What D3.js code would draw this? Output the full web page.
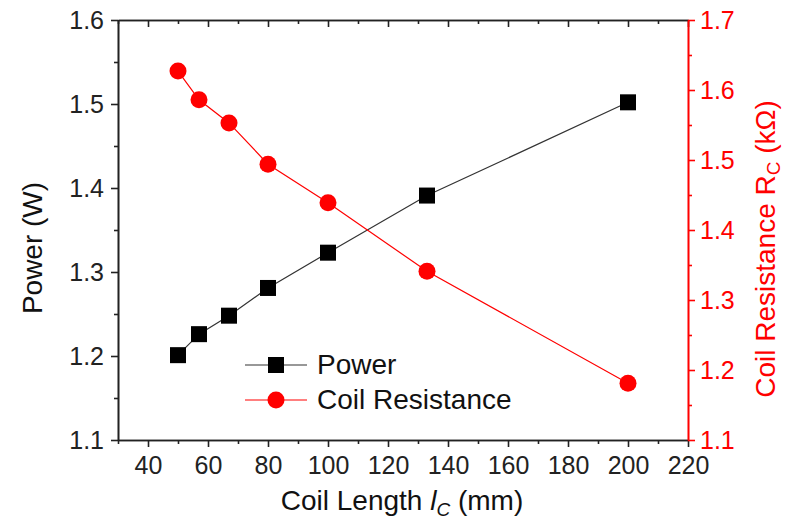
<!DOCTYPE html>
<html>
<head>
<meta charset="utf-8">
<script src="https://cdn.jsdelivr.net/npm/d3@7"></script>
<style>
  body { margin: 0; background: #fff; }
  svg text { font-family: "Liberation Sans", Arial, sans-serif; }
</style>
</head>
<body>
<div id="vis"></div>
<script>
// data
const coilLength = [50, 57, 67, 80, 100, 133, 200];
const power = [1.201, 1.226, 1.248, 1.281, 1.323, 1.391, 1.502];
const resistance = [1.627, 1.586, 1.553, 1.494, 1.439, 1.341, 1.181];

const xTicks = [40, 60, 80, 100, 120, 140, 160, 180, 200, 220];
const xMinor = [30, 50, 70, 90, 110, 130, 150, 170, 190, 210];
const powerTicks = [1.1, 1.2, 1.3, 1.4, 1.5, 1.6];
const powerMinor = [1.15, 1.25, 1.35, 1.45, 1.55];
const resTicks = [1.1, 1.2, 1.3, 1.4, 1.5, 1.6, 1.7];
const resMinor = [1.15, 1.25, 1.35, 1.45, 1.55, 1.65];

const FRAME_WIDTH = 788;
const FRAME_HEIGHT = 523;
const MARGINS = {left: 118, right: 100, top: 20, bottom: 83};
const VIS_WIDTH = FRAME_WIDTH - MARGINS.left - MARGINS.right;
const VIS_HEIGHT = FRAME_HEIGHT - MARGINS.top - MARGINS.bottom;

const RED = "#ff0000";
const TICK_FONT = "25px";
const TITLE_FONT = "28px";

const FRAME = d3.select("#vis")
                .append("svg")
                  .attr("width", FRAME_WIDTH)
                  .attr("height", FRAME_HEIGHT);

const X_SCALE = d3.scaleLinear().domain([30, 220]).range([0, VIS_WIDTH]);
const Y_LEFT = d3.scaleLinear().domain([1.1, 1.6]).range([VIS_HEIGHT, 0]);
const Y_RIGHT = d3.scaleLinear().domain([1.1, 1.7]).range([VIS_HEIGHT, 0]);

const G = FRAME.append("g")
               .attr("transform", "translate(" + MARGINS.left + "," + MARGINS.top + ")");

// helper: style an axis group
function styleAxis(g, color) {
  g.select(".domain").attr("stroke", color).attr("stroke-width", 1.6);
  g.selectAll(".tick line").attr("stroke", color).attr("stroke-width", 1.6);
  g.selectAll(".tick text").attr("fill", color).attr("font-size", TICK_FONT);
}

// bottom axis
G.append("g")
  .attr("transform", "translate(0," + VIS_HEIGHT + ")")
  .call(d3.axisBottom(X_SCALE).tickValues(xTicks).tickSize(7).tickPadding(9).tickSizeOuter(0))
  .call(g => styleAxis(g, "#222"));
G.append("g")
  .attr("transform", "translate(0," + VIS_HEIGHT + ")")
  .call(d3.axisBottom(X_SCALE).tickValues(xMinor).tickSize(4).tickFormat("").tickSizeOuter(0))
  .call(g => styleAxis(g, "#222"));

// top axis (ticks inward, no labels)
G.append("g")
  .call(d3.axisBottom(X_SCALE).tickValues(xTicks).tickSize(7).tickFormat("").tickSizeOuter(0))
  .call(g => styleAxis(g, "#222"));
G.append("g")
  .call(d3.axisBottom(X_SCALE).tickValues(xMinor).tickSize(4).tickFormat("").tickSizeOuter(0))
  .call(g => styleAxis(g, "#222"));

// left axis
G.append("g")
  .call(d3.axisLeft(Y_LEFT).tickValues(powerTicks).tickFormat(d3.format(".1f")).tickSize(7).tickPadding(7).tickSizeOuter(0))
  .call(g => styleAxis(g, "#222"));
G.append("g")
  .call(d3.axisLeft(Y_LEFT).tickValues(powerMinor).tickFormat("").tickSize(4).tickSizeOuter(0))
  .call(g => styleAxis(g, "#222"));

// right axis (red)
G.append("g")
  .attr("transform", "translate(" + VIS_WIDTH + ",0)")
  .call(d3.axisRight(Y_RIGHT).tickValues(resTicks).tickFormat(d3.format(".1f")).tickSize(7).tickPadding(5).tickSizeOuter(0))
  .call(g => styleAxis(g, RED));
G.append("g")
  .attr("transform", "translate(" + VIS_WIDTH + ",0)")
  .call(d3.axisRight(Y_RIGHT).tickValues(resMinor).tickFormat("").tickSize(4).tickSizeOuter(0))
  .call(g => styleAxis(g, RED));

// lines
const powerLine = d3.line().x((d, i) => X_SCALE(coilLength[i])).y(d => Y_LEFT(d));
const resLine = d3.line().x((d, i) => X_SCALE(coilLength[i])).y(d => Y_RIGHT(d));

G.append("path").datum(power)
  .attr("d", powerLine).attr("fill", "none").attr("stroke", "#333").attr("stroke-width", 1.2);
G.append("path").datum(resistance)
  .attr("d", resLine).attr("fill", "none").attr("stroke", RED).attr("stroke-width", 1.2);

// markers
const SQ = 16;
G.selectAll(".sq").data(power).enter().append("rect")
  .attr("x", (d, i) => X_SCALE(coilLength[i]) - SQ / 2)
  .attr("y", d => Y_LEFT(d) - SQ / 2)
  .attr("width", SQ).attr("height", SQ)
  .attr("fill", "#000");

G.selectAll(".dot").data(resistance).enter().append("circle")
  .attr("cx", (d, i) => X_SCALE(coilLength[i]))
  .attr("cy", d => Y_RIGHT(d))
  .attr("r", 8.5)
  .attr("fill", RED);

// legend
const LEG_X = 245 - MARGINS.left;
const legend = [
  {name: "Power", color: "#333", y: 365 - MARGINS.top, shape: "square"},
  {name: "Coil Resistance", color: RED, y: 400 - MARGINS.top, shape: "circle"}
];
legend.forEach(l => {
  G.append("line")
    .attr("x1", LEG_X).attr("x2", LEG_X + 62)
    .attr("y1", l.y).attr("y2", l.y)
    .attr("stroke", l.color).attr("stroke-width", 1.2);
  if (l.shape === "square") {
    G.append("rect").attr("x", LEG_X + 31 - SQ / 2).attr("y", l.y - SQ / 2)
      .attr("width", SQ).attr("height", SQ).attr("fill", "#000");
  } else {
    G.append("circle").attr("cx", LEG_X + 31).attr("cy", l.y).attr("r", 8.5).attr("fill", RED);
  }
  G.append("text")
    .attr("x", LEG_X + 72).attr("y", l.y + 9)
    .attr("font-size", TITLE_FONT).attr("fill", "#111")
    .text(l.name);
});

// axis titles
const xTitle = FRAME.append("text")
  .attr("x", 402).attr("y", 510)
  .attr("text-anchor", "middle").attr("font-size", TITLE_FONT).attr("fill", "#111");
xTitle.append("tspan").text("Coil Length ");
xTitle.append("tspan").attr("font-style", "italic").text("l");
xTitle.append("tspan").attr("font-style", "italic").attr("font-size", "19px").attr("dy", 6).text("C");
xTitle.append("tspan").attr("dy", -6).text(" (mm)");

FRAME.append("text")
  .attr("transform", "translate(42,248) rotate(-90)")
  .attr("text-anchor", "middle").attr("font-size", TITLE_FONT).attr("fill", "#111")
  .text("Power (W)");

const yTitle = FRAME.append("text")
  .attr("transform", "translate(775,249) rotate(-90)")
  .attr("text-anchor", "middle").attr("font-size", TITLE_FONT).attr("fill", RED);
yTitle.append("tspan").text("Coil Resistance R");
yTitle.append("tspan").attr("font-size", "19px").attr("dy", 5).text("C");
yTitle.append("tspan").attr("dy", -5).text(" (kΩ)");
</script>
</body>
</html>
